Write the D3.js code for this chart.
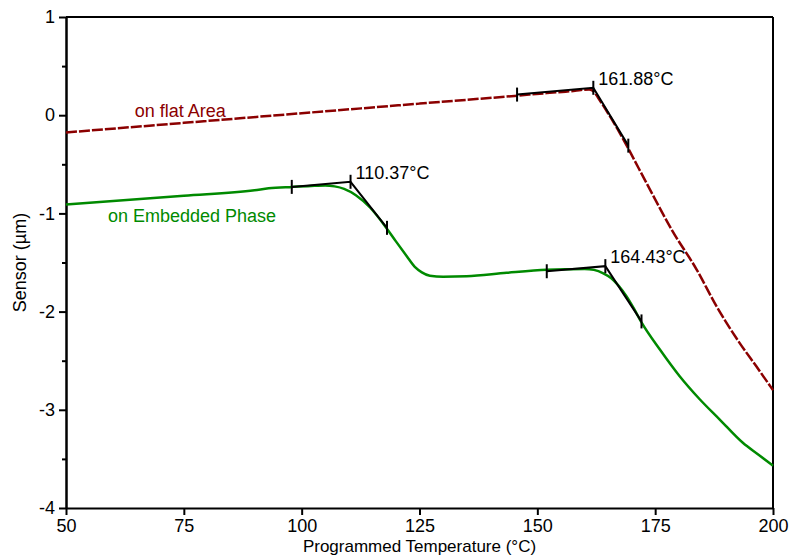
<!DOCTYPE html>
<html>
<head>
<meta charset="utf-8">
<script src="https://cdn.jsdelivr.net/npm/d3@7"></script>
<style>
  html, body { margin: 0; padding: 0; background: #fff; }
  svg { display: block; font-family: "Liberation Sans", Arial, sans-serif; }
</style>
</head>
<body>
<svg id="chart" width="790" height="555"></svg>
<script>
// ---- data ----
const flatTemp = [50, 75, 100, 125, 146, 152, 156, 158, 160, 161, 162, 163, 165, 167, 169.2, 171.5, 173.9, 178.5, 183.8, 188, 192.9, 196.5, 200];
const flatSensor = [-0.176, -0.078, 0.02, 0.118, 0.2, 0.225, 0.24, 0.248, 0.26, 0.262, 0.24, 0.17, 0.02, -0.14, -0.33, -0.54, -0.757, -1.166, -1.572, -1.945, -2.318, -2.56, -2.80];

const embTemp = [50, 75, 90, 93, 98, 102, 105, 107, 109, 111.5, 114.5, 117.7, 120, 122.3, 124, 125.5, 127.2, 130, 135, 143.5, 152, 156, 160, 162, 164, 165.7, 167.3, 168.9, 170.5, 172.1, 176, 180.2, 184.5, 188.7, 193.6, 197, 200];
const embSensor = [-0.91, -0.82, -0.764, -0.745, -0.73, -0.72, -0.715, -0.725, -0.75, -0.815, -0.94, -1.13, -1.285, -1.436, -1.545, -1.6, -1.635, -1.645, -1.64, -1.605, -1.575, -1.568, -1.565, -1.575, -1.61, -1.66, -1.74, -1.843, -1.97, -2.11, -2.386, -2.658, -2.895, -3.099, -3.336, -3.46, -3.57];

// onset tangent constructions: [start, onset, end]
const onsetLabels = ["161.88°C", "110.37°C", "164.43°C"];
const onsetTemp = [[145.7, 161.88, 169.3], [97.9, 110.37, 118.1], [152.0, 164.43, 172.1]];
const onsetSensor = [[0.21, 0.279, -0.31], [-0.73, -0.678, -1.147], [-1.589, -1.537, -2.10]];

const seriesNames = ["on flat Area", "on Embedded Phase"];
const xTicks = [50, 75, 100, 125, 150, 175, 200];
const yTicks = [1, 0, -1, -2, -3, -4];
const yTickLabels = ["1", "0", "-1", "-2", "-3", "-4"];
const yMinorTicks = [0.5, -0.5, -1.5, -2.5, -3.5];

// ---- chart ----
const svg = d3.select("#chart");
const x = d3.scaleLinear().domain([50, 200]).range([66, 773]);
const y = d3.scaleLinear().domain([-4, 1]).range([508, 17]);

const red = "#8b0000", green = "#008a00";

// frame top/right
svg.append("line").attr("x1", x(50)).attr("x2", x(200)).attr("y1", y(1)).attr("y2", y(1))
  .attr("stroke", "#000").attr("stroke-width", 2);
svg.append("line").attr("x1", x(200)).attr("x2", x(200)).attr("y1", y(1)).attr("y2", y(-4))
  .attr("stroke", "#000").attr("stroke-width", 2);

// axes
const xAxis = d3.axisBottom(x).tickValues(xTicks).tickSize(7).tickPadding(4).tickSizeOuter(0)
  .tickFormat(d => String(d));
const gx = svg.append("g").attr("transform", `translate(0,${y(-4)})`).call(xAxis);
const yAxis = d3.axisLeft(y).tickValues(yTicks).tickSize(7).tickPadding(4).tickSizeOuter(0)
  .tickFormat((d, i) => yTickLabels[i]);
const gy = svg.append("g").attr("transform", `translate(${x(50)},0)`).call(yAxis);
const yMinor = d3.axisLeft(y).tickValues(yMinorTicks).tickSize(4).tickFormat("").tickSizeOuter(0);
const gym = svg.append("g").attr("transform", `translate(${x(50)},0)`).call(yMinor);
[gx, gy, gym].forEach(g => {
  g.select(".domain").attr("stroke", "#000").attr("stroke-width", 2);
  g.selectAll(".tick line").attr("stroke", "#000").attr("stroke-width", 2);
  g.selectAll(".tick text").attr("fill", "#000").style("font-size", "18px")
    .style("font-family", "'Liberation Sans', Arial, sans-serif");
});
gx.selectAll(".tick text").attr("dy", "0.7em");

// curves
const line = d3.line().x(d => x(d[0])).y(d => y(d[1])).curve(d3.curveMonotoneX);
svg.append("path").datum(embTemp.map((t, i) => [t, embSensor[i]]))
  .attr("d", line).attr("fill", "none").attr("stroke", green).attr("stroke-width", 2.5);
svg.append("path").datum(flatTemp.map((t, i) => [t, flatSensor[i]]))
  .attr("d", line).attr("fill", "none").attr("stroke", red).attr("stroke-width", 2.5)
  .attr("stroke-dasharray", "11,2");

// onset constructions
const straight = d3.line().x(d => x(d[0])).y(d => y(d[1]));
onsetTemp.forEach((ts, k) => {
  const pts = ts.map((t, i) => [t, onsetSensor[k][i]]);
  svg.append("path").attr("d", straight(pts)).attr("fill", "none")
    .attr("stroke", "#000").attr("stroke-width", 2);
  pts.forEach(p => {
    svg.append("line").attr("x1", x(p[0])).attr("x2", x(p[0]))
      .attr("y1", y(p[1]) - 7).attr("y2", y(p[1]) + 7)
      .attr("stroke", "#000").attr("stroke-width", 2);
  });
  svg.append("text").attr("x", x(ts[1]) + 5).attr("y", y(onsetSensor[k][1]) - 3)
    .attr("fill", "#000").style("font-size", "18px").text(onsetLabels[k]);
});

// series labels
svg.append("text").attr("x", x(64.6)).attr("y", y(-0.014)).attr("fill", red)
  .style("font-size", "18px").text(seriesNames[0]);
svg.append("text").attr("x", x(58.9)).attr("y", y(-1.09)).attr("fill", green)
  .style("font-size", "18px").text(seriesNames[1]);

// axis titles
svg.append("text").attr("x", (x(50) + x(200)) / 2).attr("y", 551.5).attr("text-anchor", "middle")
  .attr("fill", "#000").style("font-size", "17px").text("Programmed Temperature (°C)");
svg.append("text").attr("transform", `translate(26,${(y(1) + y(-4)) / 2}) rotate(-90)`)
  .attr("text-anchor", "middle").attr("fill", "#000").style("font-size", "18px").text("Sensor (µm)");
</script>
</body>
</html>
